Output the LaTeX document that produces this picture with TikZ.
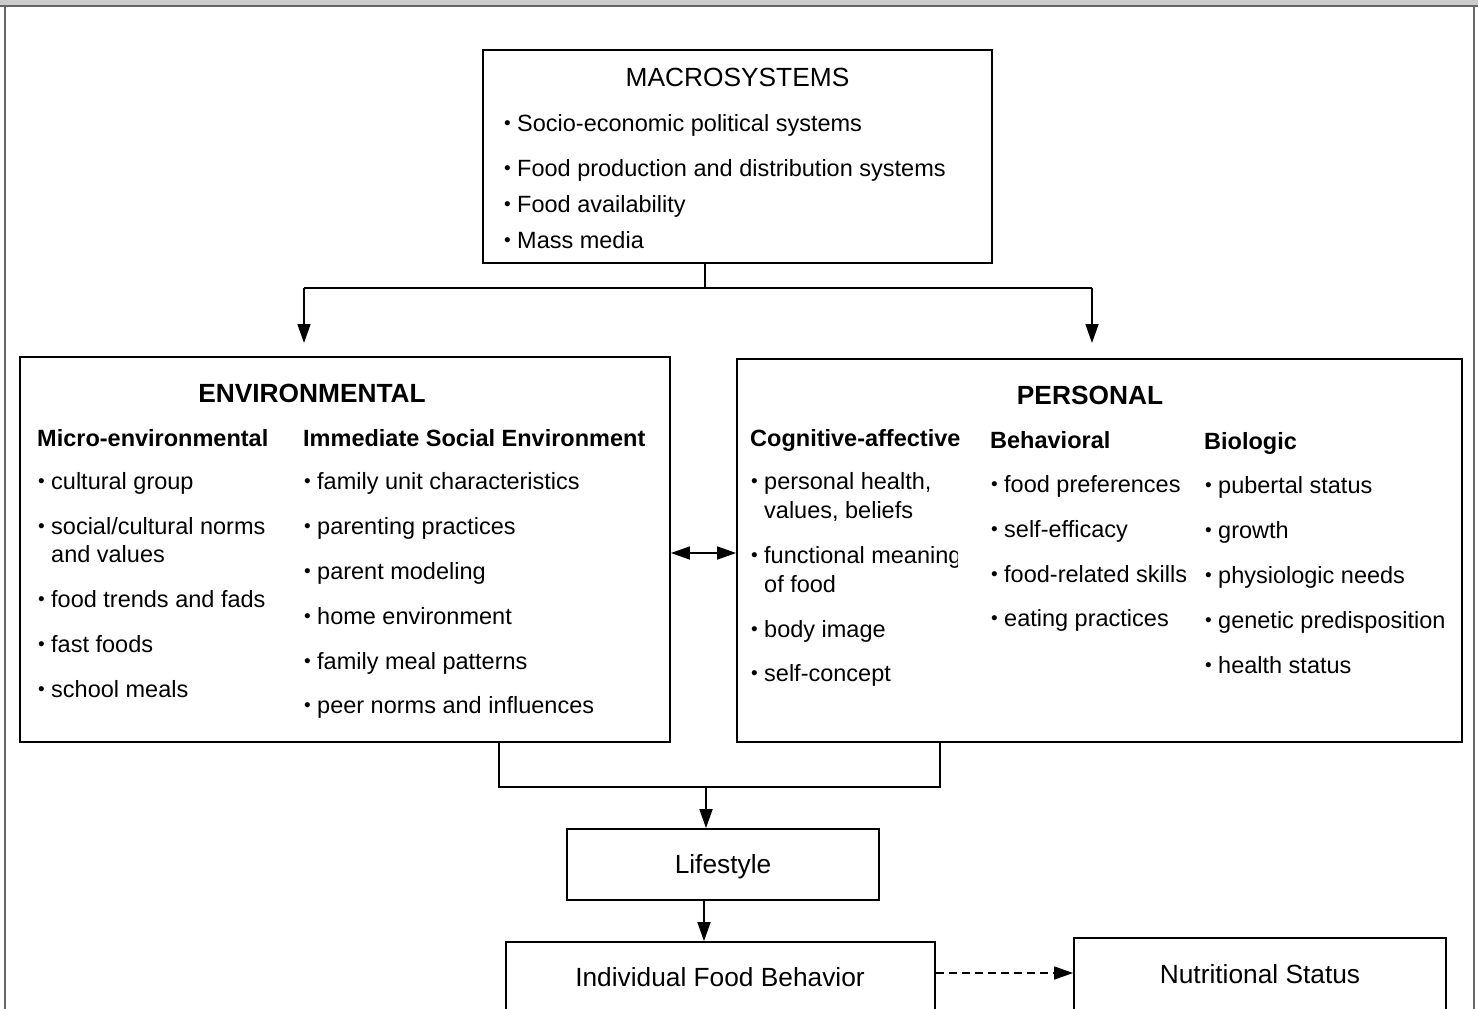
\documentclass[tikz,border=0pt]{standalone}
\usepackage{fontspec}
\setmainfont{Liberation Sans}
\usetikzlibrary{arrows.meta}
\definecolor{bandgray}{HTML}{CCCCCC}
\definecolor{framegray}{HTML}{666666}
\newcommand\bulitem{\makebox[14pt][l]{\hspace{1pt}\raisebox{1.2pt}{\fontsize{19}{19}\selectfont •}}}
\tikzset{
  box/.style={draw=black, line width=1.8pt, fill=white, inner sep=0pt},
  txt/.style={font=\fontsize{23.5}{28}\selectfont, inner sep=0pt, anchor=base west},
  ctxt/.style={font=\fontsize{26.3}{30}\selectfont, inner sep=0pt, anchor=base},
  hd/.style={font=\fontsize{23.5}{28}\selectfont\bfseries, inner sep=0pt, anchor=base west},
  chd/.style={font=\fontsize{26.3}{30}\selectfont\bfseries, inner sep=0pt, anchor=base},
  conn/.style={draw=black, line width=1.7pt},
  arr/.style={conn, -{Triangle[length=19pt,width=13pt]}},
  darr/.style={conn, {Triangle[length=19pt,width=13pt]}-{Triangle[length=19pt,width=13pt]}},
  dasharr/.style={conn, dash pattern=on 8pt off 5pt, -{Triangle[length=19pt,width=13pt]}}
}
\begin{document}
\begin{tikzpicture}[x=1pt,y=-1pt]
\useasboundingbox (0,0) rectangle (1478,1009);
\clip (0,0) rectangle (1478,1009);
% frame
\fill[bandgray] (0,0) rectangle (1478,5);
\draw[framegray, line width=2.2pt] (0,6) -- (1478,6);
\draw[framegray, line width=1.6pt] (5,6) -- (5,1009);
\draw[framegray, line width=1.6pt] (1474,6) -- (1474,1009);

% boxes
\node[box, minimum width=509pt, minimum height=213pt] (macro) at (737.5,156.5) {};
\node[box, minimum width=650pt, minimum height=385pt] (env) at (345,549.5) {};
\node[box, minimum width=725pt, minimum height=383pt] (pers) at (1099.5,550.5) {};
\node[box, minimum width=312pt, minimum height=71pt] (life) at (723,864.5) {};
\node[box, minimum width=429pt, minimum height=98pt] (ifb) at (720.5,991) {};
\node[box, minimum width=372pt, minimum height=102pt] (ns) at (1260,989) {};

% macro text
\node[ctxt] (macroT) at (737.5,86) {MACROSYSTEMS};
\node[txt] (m1) at (503,131) {\bulitem Socio-economic political systems};
\node[txt] (m2) at (503,176) {\bulitem Food production and distribution systems};
\node[txt] (m3) at (503,212) {\bulitem Food availability};
\node[txt] (m4) at (503,248) {\bulitem Mass media};

% environmental
\node[chd] (envT) at (312,402) {ENVIRONMENTAL};
\node[hd] (microH) at (37,446) {Micro-environmental};
\node[hd] (immH) at (303,446) {Immediate Social Environment};
\node[txt] (e1) at (37,489) {\bulitem cultural group};
\node[txt] (e2) at (37,534) {\bulitem social/cultural norms};
\node[txt] (e2b) at (51,562) {and values};
\node[txt] (e3) at (37,607) {\bulitem food trends and fads};
\node[txt] (e4) at (37,652) {\bulitem fast foods};
\node[txt] (e5) at (37,697) {\bulitem school meals};
\node[txt] (s1) at (303,489) {\bulitem family unit characteristics};
\node[txt] (s2) at (303,534) {\bulitem parenting practices};
\node[txt] (s3) at (303,579) {\bulitem parent modeling};
\node[txt] (s4) at (303,624) {\bulitem home environment};
\node[txt] (s5) at (303,669) {\bulitem family meal patterns};
\node[txt] (s6) at (303,713) {\bulitem peer norms and influences};

% personal
\node[chd] (persT) at (1090,404) {PERSONAL};
\node[hd] (cogH) at (750,446) {Cognitive-affective};
\node[hd] (behH) at (990,448) {Behavioral};
\node[hd] (bioH) at (1204,449) {Biologic};
\node[txt] (c1) at (750,489) {\bulitem personal health,};
\node[txt] (c1b) at (764,518) {values, beliefs};
\begin{scope}
\clip (745,530) rectangle (957,575);
\node[txt] (c2) at (750,563) {\bulitem functional meaning};
\end{scope}
\node[txt] (c2b) at (764,592) {of food};
\node[txt] (c3) at (750,637) {\bulitem body image};
\node[txt] (c4) at (750,681) {\bulitem self-concept};
\node[txt] (b1) at (990,492) {\bulitem food preferences};
\node[txt] (b2) at (990,537) {\bulitem self-efficacy};
\node[txt] (b3) at (990,582) {\bulitem food-related skills};
\node[txt] (b4) at (990,626) {\bulitem eating practices};
\node[txt] (g1) at (1204,493) {\bulitem pubertal status};
\node[txt] (g2) at (1204,538) {\bulitem growth};
\node[txt] (g3) at (1204,583) {\bulitem physiologic needs};
\node[txt] (g4) at (1204,628) {\bulitem genetic predisposition};
\node[txt] (g5) at (1204,673) {\bulitem health status};

% bottom texts
\node[ctxt] (lifeT) at (723,873) {Lifestyle};
\node[ctxt] (ifbT) at (720,986) {Individual Food Behavior};
\node[ctxt] (nsT) at (1260,983) {Nutritional Status};

% connectors
\coordinate (mj) at (705,288);
\coordinate (ml) at (304,288);
\coordinate (mr) at (1092,288);
\coordinate (envtip) at (304,343);
\coordinate (perstip) at (1092,343);
\draw[conn] (macro.south -| mj) -- (mj);
\draw[conn] (ml) -- (mr);
\draw[arr] (ml) -- (envtip);
\draw[arr] (mr) -- (perstip);
\draw[darr] (env.east |- 0,553) -- (pers.west |- 0,553);
\coordinate (bl) at (499,787);
\coordinate (br) at (940,787);
\coordinate (bj) at (706,787);
\draw[conn] (env.south -| bl) -- (bl) -- (br) -- (pers.south -| br);
\draw[arr] (bj) -- (life.north -| bj);
\coordinate (lj) at (704,0);
\draw[arr] (life.south -| lj) -- (ifb.north -| lj);
\draw[dasharr] (ifb.east |- 0,973) -- (ns.west |- 0,973);
\end{tikzpicture}
\end{document}
